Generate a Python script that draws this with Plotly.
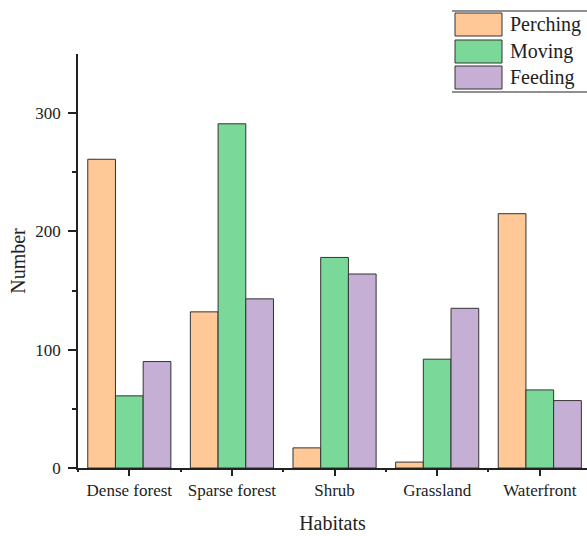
import plotly.graph_objects as go

categories = ["Dense forest", "Sparse forest", "Shrub", "Grassland", "Waterfront"]
perching = [261, 132, 17, 5, 215]
moving = [61, 291, 178, 92, 66]
feeding = [90, 143, 164, 135, 57]
series_names = ["Perching", "Moving", "Feeding"]
colors = ["#FFC896", "#7AD998", "#C5AFD5"]

FONT = "Liberation Serif"
fig = go.Figure()
for name, vals, col in zip(series_names, [perching, moving, feeding], colors):
    fig.add_trace(go.Bar(x=categories, y=vals, name=name, marker=dict(color=col, line=dict(color="#333333", width=1)),
                         showlegend=False))

# invisible trace for minor-tick overlay axis
fig.add_trace(go.Scatter(x=[0], y=[0], xaxis="x2", mode="markers", marker=dict(opacity=0), showlegend=False, hoverinfo="skip"))

fig.update_layout(
    width=587, height=536,
    margin=dict(l=78, r=0, t=54, b=68),
    paper_bgcolor="white", plot_bgcolor="white",
    barmode="group", bargap=0.19, bargroupgap=0,
    font=dict(family=FONT, color="#222222", size=17),
    xaxis=dict(type="category", range=[-0.5, 4.46], showline=True, linecolor="#222222", linewidth=1.5,
               ticks="outside", ticklen=6, tickwidth=1.5, tickcolor="#222222", showgrid=False, zeroline=False,
               tickfont=dict(size=17), title=dict(text="Habitats", font=dict(size=20), standoff=17)),
    xaxis2=dict(overlaying="x", anchor="y", range=[-0.5, 4.46], showticklabels=False, showgrid=False, zeroline=False,
                tickmode="array", tickvals=[-0.5, 0.5, 1.5, 2.5, 3.5], ticks="outside", ticklen=3, tickwidth=1.5,
                tickcolor="#222222", side="bottom"),
    yaxis=dict(range=[0, 350], tickvals=[0, 100, 200, 300], showline=True, linecolor="#222222", linewidth=1.5,
               ticks="outside", ticklen=8, tickwidth=1.5, tickcolor="#222222", showgrid=False, zeroline=False,
               ticklabelstandoff=4,
               minor=dict(tickvals=[50, 150, 250], ticks="outside", ticklen=4, tickwidth=1.5, tickcolor="#222222", showgrid=False),
               tickfont=dict(size=17), title=dict(text="Number", font=dict(size=20), standoff=4)),
)

# legend drawn as decoration
shapes = [
    dict(type="line", xref="paper", yref="paper", x0=(452-78)/509, x1=1.0, y0=(468-11)/414, y1=(468-11)/414,
         line=dict(color="#222222", width=1.2)),
    dict(type="line", xref="paper", yref="paper", x0=(452-78)/509, x1=1.0, y0=(468-92)/414, y1=(468-92)/414,
         line=dict(color="#222222", width=1.2)),
]
tops = [13, 40, 66]
for name, col, t in zip(series_names, colors, tops):
    shapes.append(dict(type="rect", xref="paper", yref="paper", x0=(455-78)/509, x1=(502-78)/509,
                       y0=(468-(t+23))/414, y1=(468-t)/414, fillcolor=col, line=dict(color="#333333", width=1)))
    fig.add_annotation(xref="paper", yref="paper", x=(508-78)/509, y=(468-(t+11.5))/414, text=name,
                       showarrow=False, xanchor="left", yanchor="middle", font=dict(size=20, family=FONT, color="#222222"))
fig.update_layout(shapes=shapes)

fig.write_html("out.html", config={"displayModeBar": False})
with open("out.html", "r", encoding="utf-8") as f:
    html = f.read()
html = html.replace("<head>", "<head><style>html,body{margin:0;padding:0;overflow:hidden;}</style>", 1)
with open("out.html", "w", encoding="utf-8") as f:
    f.write(html)
